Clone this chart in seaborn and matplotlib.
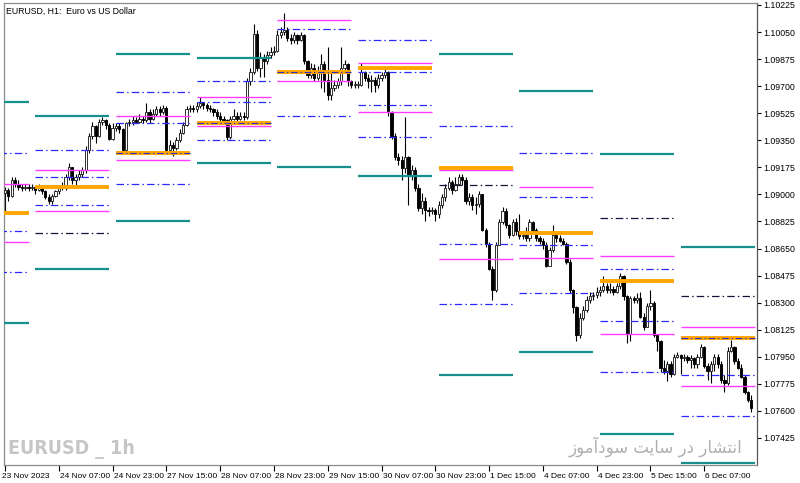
import numpy as np
import pandas as pd
import matplotlib
matplotlib.use("Agg")
import matplotlib.pyplot as plt
import matplotlib.transforms as mtransforms
from matplotlib import font_manager
import seaborn as sns

# ---------------- data (prices stored as pips above 1.0700) ----------------
BASE = 1.0700
first_open = 201
close_pips = [203, 199, 209, 207, 205, 204, 205, 204, 205, 203, 204, 202, 198, 196, 199, 202, 204, 205, 211, 218,
              209, 211, 213, 216, 229, 238, 244, 238, 247, 248, 245, 236, 243, 244, 242, 229, 246, 247, 248, 247,
              249, 248, 253, 249, 252, 255, 253, 256, 229, 232, 230, 235, 240, 245, 255, 256, 255, 257, 259, 258,
              256, 255, 253, 251, 249, 248, 237, 249, 251, 249, 251, 250, 273, 279, 304, 282, 288, 286, 290, 292,
              293, 303, 305, 306, 301, 300, 303, 300, 303, 286, 277, 282, 275, 280, 284, 274, 264, 269, 271, 273,
              282, 284, 273, 271, 271, 271, 279, 275, 273, 274, 271, 275, 277, 279, 253, 238, 224, 222, 217, 224,
              212, 216, 204, 191, 196, 190, 189, 190, 187, 193, 198, 204, 208, 203, 207, 211, 209, 196, 198, 193,
              194, 200, 177, 168, 152, 138, 167, 182, 189, 180, 174, 182, 176, 173, 174, 172, 182, 177, 172, 170,
              167, 154, 164, 174, 172, 170, 168, 156, 138, 127, 109, 120, 125, 132, 134, 135, 137, 138, 141, 138,
              139, 137, 141, 147, 134, 110, 133, 132, 133, 121, 114, 128, 130, 109, 105, 88, 86, 90, 84, 95,
              96, 94, 95, 93, 94, 90, 95, 101, 89, 86, 90, 95, 90, 80, 78, 99, 101, 92, 88, 82,
              72, 67, 62]
high_pips = [205, 204, 211, 211, 209, 207, 207, 207, 207, 206, 207, 205, 203, 200, 200, 203, 206, 208, 213, 220,
             218, 213, 216, 218, 231, 240, 247, 245, 249, 250, 249, 246, 246, 246, 246, 243, 247, 249, 251, 250,
             252, 251, 259, 255, 255, 257, 257, 258, 257, 235, 234, 237, 242, 247, 257, 258, 258, 260, 263, 260,
             259, 258, 256, 255, 253, 251, 249, 251, 255, 253, 253, 253, 275, 282, 310, 306, 292, 291, 293, 295,
             296, 306, 308, 317, 308, 304, 305, 304, 305, 304, 287, 285, 284, 283, 291, 286, 295, 279, 274, 275,
             295, 287, 285, 274, 273, 273, 285, 280, 278, 277, 276, 278, 279, 282, 280, 254, 240, 227, 225, 250,
             225, 219, 218, 207, 201, 198, 192, 192, 191, 196, 200, 207, 211, 209, 211, 213, 213, 211, 201, 200,
             198, 202, 200, 178, 169, 154, 169, 184, 192, 191, 181, 184, 185, 187, 176, 179, 184, 183, 178, 173,
             172, 169, 166, 180, 176, 174, 172, 169, 158, 139, 128, 123, 128, 134, 137, 137, 140, 141, 147, 143,
             143, 141, 143, 149, 148, 135, 134, 134, 136, 137, 123, 130, 138, 131, 110, 106, 93, 92, 92, 97,
             98, 97, 97, 96, 96, 95, 97, 103, 102, 91, 92, 97, 97, 92, 83, 101, 106, 102, 94, 90,
             83, 73, 70]
low_pips = [189, 196, 198, 205, 203, 202, 203, 202, 203, 200, 202, 200, 197, 194, 194, 198, 200, 203, 203, 209,
            207, 205, 209, 211, 214, 227, 236, 233, 237, 245, 242, 235, 235, 241, 240, 227, 227, 244, 245, 246,
            246, 246, 247, 246, 248, 251, 251, 252, 227, 227, 225, 229, 234, 239, 244, 253, 253, 253, 256, 255,
            254, 253, 251, 249, 247, 246, 235, 236, 248, 247, 248, 248, 249, 271, 278, 280, 276, 276, 284, 288,
            290, 292, 301, 303, 299, 297, 298, 297, 299, 284, 275, 275, 273, 274, 269, 266, 261, 261, 267, 269,
            271, 279, 270, 269, 269, 269, 270, 273, 269, 266, 266, 269, 273, 275, 251, 236, 222, 219, 209, 214,
            193, 209, 202, 189, 187, 183, 186, 187, 183, 185, 191, 196, 203, 200, 202, 206, 206, 194, 193, 190,
            187, 192, 176, 166, 151, 132, 137, 167, 181, 178, 172, 173, 174, 171, 171, 170, 170, 175, 170, 168,
            165, 153, 154, 163, 169, 169, 167, 155, 136, 123, 105, 107, 119, 124, 130, 132, 133, 134, 137, 136,
            136, 135, 136, 139, 132, 104, 105, 130, 130, 120, 112, 114, 125, 108, 99, 85, 84, 79, 82, 83,
            94, 84, 92, 91, 88, 88, 88, 94, 88, 80, 78, 86, 88, 78, 72, 77, 98, 90, 87, 81,
            71, 66, 59]

# daily levels (pips above 1.0700)
level_days = ["2023-11-23", "2023-11-24", "2023-11-27", "2023-11-28", "2023-11-29",
              "2023-11-30", "2023-12-01", "2023-12-04", "2023-12-05", "2023-12-06"]
pivot_lv = [188, 205, 227, 246, 279, 282, 217, 175, 144, 107]
pivot_dash = [False, False, True, True, True, False, False, False, False, True]
magenta_lv = [[207, 169], [216, 189], [251, 222], [263, 244], [313, 273],
              [285, 253], [216, 158], [205, 159], [160, 110], [114, 76]]
blue_lv = [[227, 176, 150], [229, 211, 193], [266, 246, 207], [273, 260, 235], [307, 251],
           [300, 279, 258, 237], [244, 168, 129], [227, 198, 167, 136], [152, 118, 85], [83, 57]]
dark_lv = [[], [175], [], [], [], [], [206], [], [185], [134]]
teal_lv = [[260, 117], [251, 152], [291, 183], [288, 220], [218],
           [212], [291, 83], [267, 98], [226, 45], [166, 26]]

y_ticks = [1.07425, 1.07600, 1.07775, 1.07950, 1.08125, 1.08300, 1.08475, 1.08650, 1.08825,
           1.09000, 1.09175, 1.09350, 1.09525, 1.09700, 1.09875, 1.10050, 1.10225]

title_text = "EURUSD, H1:  Euro vs US Dollar"
wm_left = "EURUSD _ 1h"
wm_right = "انتشار در سایت سودآموز"

# ---------------- helpers ----------------
AR_FORMS = {  # isolated, final, initial, medial
    "ا": ("\uFE8D", "\uFE8E", None, None),
    "آ": ("\uFE81", "\uFE82", None, None),
    "ن": ("\uFEE5", "\uFEE6", "\uFEE7", "\uFEE8"),
    "ت": ("\uFE95", "\uFE96", "\uFE97", "\uFE98"),
    "ش": ("\uFEB5", "\uFEB6", "\uFEB7", "\uFEB8"),
    "ر": ("\uFEAD", "\uFEAE", None, None),
    "د": ("\uFEA9", "\uFEAA", None, None),
    "س": ("\uFEB1", "\uFEB2", "\uFEB3", "\uFEB4"),
    "ی": ("\uFBFC", "\uFBFD", "\uFEF3", "\uFEF4"),
    "و": ("\uFEED", "\uFEEE", None, None),
    "م": ("\uFEE1", "\uFEE2", "\uFEE3", "\uFEE4"),
    "ز": ("\uFEAF", "\uFEB0", None, None),
}


def shape_rtl(s):
    words = []
    for w in s.split(" "):
        ch = list(w)
        res = []
        for k, c in enumerate(ch):
            f = AR_FORMS.get(c)
            if f is None:
                res.append(c)
                continue
            pj = k > 0 and AR_FORMS.get(ch[k - 1], (0, 0, None))[2] is not None
            nj = k < len(ch) - 1 and f[2] is not None and ch[k + 1] in AR_FORMS
            if pj and nj:
                res.append(f[3])
            elif pj:
                res.append(f[1])
            elif nj:
                res.append(f[2])
            else:
                res.append(f[0])
        words.append("".join(res))
    return " ".join(words)[::-1]


def px(p):
    return BASE + np.asarray(p, dtype=float) / 10000.0


def watermark_font():
    names = {(f.name, f.stretch, f.weight) for f in font_manager.fontManager.ttflist}
    for (nm, st, wt) in names:
        if nm == "Liberation Sans Narrow":
            return dict(family=["Liberation Sans Narrow"], fontsize=18.0, fontweight="bold")
    for (nm, st, wt) in names:
        if nm == "DejaVu Sans" and st == "condensed":
            return dict(family=["DejaVu Sans"], fontstretch="condensed", fontsize=14.0,
                        fontweight="bold")
    return dict(family=["Liberation Sans"], fontsize=13.5, fontweight="bold")


# ---------------- time axis ----------------
times = pd.date_range("2023-11-23 15:00", "2023-12-06 21:00", freq="h")
times = times[times.dayofweek < 5]
n = len(times)
xi = np.arange(n)

c = px(close_pips)
o = px([first_open] + close_pips[:-1])
h = np.maximum(px(high_pips), np.maximum(o, c))
l = np.minimum(px(low_pips), np.minimum(o, c))

# ---------------- figure ----------------
sns.set_theme(style="white")
plt.rcParams["font.family"] = ["Liberation Sans", "DejaVu Sans"]

fig = plt.figure(figsize=(8.0, 4.83), dpi=100)
ax = fig.add_axes([4 / 800, 18 / 483, 753 / 800, 462 / 483])
ax.set_facecolor("white")

# candles
ax.vlines(xi, l, h, color="black", linewidth=0.8, zorder=2)
body = c - o
body = np.where(np.abs(body) < 0.00002, 0.00002, body)
bull = c >= o
ax.bar(xi[bull], body[bull], bottom=o[bull], width=0.66, color="white",
       edgecolor="#202020", linewidth=0.65, zorder=3)
ax.bar(xi[~bull], body[~bull], bottom=o[~bull], width=0.66, color="black",
       edgecolor="black", linewidth=0.65, zorder=3)

# daily levels
blue_ls = (0, (6, 2.5, 1.2, 2.5))
for d, day in enumerate(level_days):
    day_ts = pd.Timestamp(day)
    first_idx = int(np.searchsorted(times, day_ts))
    start = first_idx - int((times[first_idx] - day_ts) / pd.Timedelta(hours=1))
    x0, x1 = start, start + 22
    for v in teal_lv[d]:
        ax.hlines(px(v), x0, x1, color="#15908c", linewidth=1.6, zorder=4)
    for v in blue_lv[d]:
        ax.hlines(px(v), x0, x1, color="#2a2aff", linewidth=0.9, linestyles=[blue_ls], zorder=4)
    for v in dark_lv[d]:
        ax.hlines(px(v), x0, x1, color="#14143c", linewidth=0.9, linestyles=[blue_ls], zorder=4)
    for v in magenta_lv[d]:
        ax.hlines(px(v), x0, x1, color="#ff3cff", linewidth=1.0, zorder=4)
    ax.hlines(px(pivot_lv[d]), x0, x1, color="#ffa500", linewidth=2.8, zorder=5)
    if pivot_dash[d]:
        ax.hlines(px(pivot_lv[d]), x0, x1, color="#3030c0", linewidth=0.8,
                  linestyles=[blue_ls], zorder=6)

# axes
ax.set_xlim(-0.3, 223.7)
ax.set_ylim(1.07250, 1.102376)
ax.yaxis.tick_right()
ax.set_yticks(y_ticks)
ax.set_yticklabels([f"{v:.5f}" for v in y_ticks])

tick_idx = list(range(0, n, 16))
labels = []
for k in tick_idx:
    t = times[k]
    labels.append("23 Nov 2023" if k == 0 else f"{t.day} {t:%b %H:%M}")
ax.set_xticks(tick_idx)
ax.set_xticklabels(labels)
ax.tick_params(axis="x", direction="out", length=4, width=0.8, pad=1.5,
               labelsize=6.0, colors="black", bottom=True)
ax.tick_params(axis="y", direction="out", length=3, width=0.8, pad=1.5,
               labelsize=6.3, colors="black", right=True, left=False)
offset = mtransforms.ScaledTranslation(1.0 / 100, 0, fig.dpi_scale_trans)
for lbl in ax.get_xticklabels():
    lbl.set_horizontalalignment("left")
    lbl.set_transform(lbl.get_transform() + offset)
first_lbl = ax.get_xticklabels()[0]
first_lbl.set_transform(first_lbl.get_transform()
                        + mtransforms.ScaledTranslation(-4.0 / 100, 0, fig.dpi_scale_trans))

for side in ["left", "top", "bottom"]:
    ax.spines[side].set_color("#8c8c8c")
    ax.spines[side].set_linewidth(0.9)
ax.spines["right"].set_color("#555555")
ax.spines["right"].set_linewidth(0.9)
ax.grid(False)

# texts
ax.text(0.003, 0.991, title_text, transform=ax.transAxes, ha="left", va="top",
        fontsize=6.3, color="black")
fig.text(8 / 800, 1 - 449 / 483, wm_left, ha="left", va="center",
         color="#c6c6c6", **watermark_font())
fig.text(742 / 800, 1 - 447 / 483, shape_rtl(wm_right), ha="right", va="center",
         fontsize=12, color="#b0b0b0", family=["DejaVu Sans"])

fig.savefig("out.png", dpi=100)
